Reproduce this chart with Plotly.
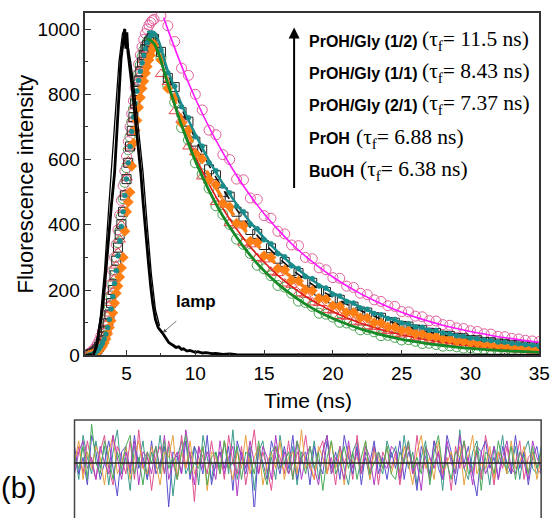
import numpy as np
import plotly.graph_objects as go

W, H = 560, 518

# ---------------- data ----------------
rise_time = np.arange(2.25, 6.9, 0.125)          # 38 points
decay_time = np.arange(7.0, 35.01, 0.5)          # 57 points
time = np.concatenate([rise_time, decay_time])
fit_time = np.concatenate([[6.5], np.arange(7.0, 35.01, 1.0)])
fit_time_mag = np.concatenate([[7.7], np.arange(8.0, 35.01, 1.0)])

buoh_rise = [3, 6, 8, 12, 16, 24, 32, 42, 55, 70, 90, 118, 150, 182, 220, 262, 300, 345, 380, 425,
             480, 530, 575, 630, 670, 715, 755, 790, 830, 862, 890, 915, 935, 950, 960, 968, 972, 968]
buoh_decay = [958, 912, 826, 775, 698, 660, 590, 556, 512, 458, 432, 401, 356, 340, 312, 276, 265, 244,
              214, 209, 190, 166, 162, 150, 129, 126, 117, 101, 99, 92, 78, 79, 72, 60, 61, 55, 47, 48,
              43, 36, 37, 33, 28, 29, 26, 22, 23, 19, 19, 16, 16, 13, 14, 12, 10, 11, 8]
proh_rise = [2, 4, 6, 9, 13, 19, 27, 36, 46, 60, 78, 100, 128, 160, 195, 235, 275, 315, 355, 400,
             445, 495, 545, 595, 640, 685, 725, 765, 800, 832, 860, 885, 905, 922, 935, 944, 950, 952]
proh_decay = [945, 862, 838, 748, 722, 640, 622, 548, 536, 470, 462, 405, 398, 345, 340, 298, 294, 256,
              252, 220, 216, 190, 186, 162, 160, 139, 137, 120, 118, 103, 101, 89, 87, 76, 74, 66, 64,
              56, 55, 48, 47, 42, 41, 36, 35, 31, 30, 26, 26, 22, 22, 19, 19, 17, 16, 14, 14]
gly21_rise = [0, 1, 3, 5, 8, 11, 15, 21, 28, 38, 50, 66, 85, 106, 130, 160, 190, 212, 240, 268,
              300, 380, 440, 470, 500, 580, 650, 690, 720, 760, 790, 818, 840, 865, 885, 905, 920, 938]
gly21_decay = [950, 905, 818, 790, 712, 690, 618, 602, 538, 522, 466, 455, 405, 398, 350, 346, 305, 300,
               266, 262, 230, 228, 200, 198, 174, 172, 152, 150, 131, 131, 115, 114, 100, 99, 87, 86,
               76, 75, 66, 65, 58, 57, 50, 49, 43, 43, 38, 37, 33, 32, 29, 28, 25, 25, 22, 21, 19]
gly11_rise = [2, 3, 5, 8, 12, 18, 25, 34, 45, 58, 75, 98, 125, 160, 200, 245, 290, 330, 370, 402,
              440, 490, 540, 590, 640, 688, 730, 772, 810, 842, 870, 898, 920, 938, 950, 960, 968, 972]
gly11_decay = [970, 930, 850, 822, 745, 716, 655, 630, 570, 552, 500, 486, 440, 425, 384, 372, 338, 328,
               296, 286, 258, 252, 226, 222, 198, 194, 174, 170, 152, 149, 134, 131, 117, 115, 102, 100,
               90, 88, 79, 77, 69, 68, 60, 59, 53, 52, 47, 46, 41, 40, 36, 35, 31, 31, 27, 27, 24]
teal_rise = [0, 1, 3, 5, 9, 14, 20, 28, 38, 50, 65, 85, 110, 142, 180, 220, 260, 305, 350, 395,
             440, 490, 540, 590, 640, 686, 730, 772, 810, 842, 870, 896, 920, 940, 958, 970, 980, 985]
teal_decay = [985, 935, 866, 825, 762, 728, 670, 641, 590, 566, 519, 498, 457, 440, 402, 388, 354, 342,
              311, 302, 274, 266, 241, 235, 212, 206, 187, 182, 165, 160, 145, 141, 128, 124, 113, 110,
              99, 97, 87, 86, 77, 76, 68, 66, 60, 58, 53, 51, 47, 45, 41, 40, 36, 35, 32, 31, 28]
gly12_rise = [5, 8, 12, 18, 25, 34, 45, 58, 75, 96, 120, 148, 180, 218, 260, 300, 340, 385, 430, 475,
              520, 565, 610, 655, 700, 740, 780, 820, 860, 892, 920, 945, 968, 986, 1000, 1012, 1020, 1026]
gly12_decay = [1030, 1040, 1010, 962, 880, 858, 800, 752, 690, 676, 615, 600, 540, 538, 482, 478, 428,
               420, 380, 372, 338, 336, 300, 296, 268, 262, 238, 236, 212, 208, 190, 186, 170, 165, 152,
               150, 134, 133, 120, 118, 106, 105, 94, 92, 84, 82, 75, 73, 66, 65, 58, 57, 52, 50, 46, 44, 42]

fit_buoh = [970, 955, 833, 705, 596, 505, 427, 362, 306, 259, 219, 186, 157, 133, 113, 96, 81, 69,
            58, 49, 42, 35, 30, 25, 21, 18, 15, 13, 11, 9]
fit_proh = [960, 958, 825, 709, 609, 524, 450, 387, 332, 286, 245, 211, 181, 156, 134, 115, 99, 85,
            73, 63, 54, 46, 40, 34, 29.5, 25.3, 21.7, 18.7, 16, 13.8]
fit_gly21 = [960, 962, 836, 727, 633, 551, 479, 417, 363, 316, 275, 239, 208, 181, 158, 137, 120,
             104, 91, 79, 69, 60, 52, 45, 39, 34, 30, 26, 23, 20]
fit_gly11 = [985, 985, 864, 757, 664, 582, 510, 447, 392, 344, 301, 264, 232, 203, 178, 156, 137,
             120, 105, 92, 81, 71, 62, 54, 48, 42, 37, 32, 28, 25]
fit_teal = [990, 990, 872, 769, 677, 597, 526, 463, 408, 360, 317, 279, 246, 216, 191, 168, 148,
            130, 115, 101, 89, 79, 69, 61, 54, 47, 42, 37, 32, 28.5]
fit_gly12 = [1035, 999, 887, 787, 699, 621, 551, 489, 434, 386, 342, 304, 270, 240, 213, 189, 168,
             149, 132, 117, 104, 92, 82, 73, 65, 57, 51, 45, 40]

lamp_time = [2.0, 2.4, 2.6, 2.8, 2.95, 3.1, 3.3, 3.5, 3.65, 3.9, 4.13, 4.25, 4.37, 4.5, 4.6, 4.75,
             4.87, 4.95, 5.02, 5.1, 5.25, 5.44, 5.6, 5.8, 6.04, 6.2, 6.4, 6.6, 6.76, 6.9, 7.1, 7.3,
             7.6, 7.8, 8.07, 8.4, 8.6, 8.8, 9.0, 9.15, 9.4, 9.6, 10.0, 10.2, 10.5, 10.8, 11.2, 11.5,
             12.0, 12.5, 13.0, 14.0, 16.0, 20.0, 25.0, 30.0, 35.0]
lamp_counts = [0, 1, 3, 25, 60, 100, 160, 260, 360, 460, 560, 660, 760, 850, 910, 960,
               1000, 940, 990, 930, 880, 810, 740, 660, 558, 470, 360, 280, 210, 160, 110, 85,
               69, 55, 39, 30, 24, 26, 18, 20, 13, 15, 9, 11, 7, 8, 5, 6,
               3, 4, 2, 1, 1, 0.5, 0.3, 0.2, 0]
lamp2_time = [2.5, 2.8, 3.1, 3.4, 3.7, 3.95, 4.2, 4.45, 4.7, 4.85, 5.0, 5.3, 5.6, 5.9, 6.2, 6.5,
              6.8, 7.1, 7.4]
lamp2_counts = [0, 30, 120, 260, 450, 600, 780, 900, 985, 1000, 975, 900, 800, 690, 560, 400,
                250, 140, 90]

res_a = [2,-3,5,1,-2,4,-1,3,-4,2,6,-2,1,-5,3,0,4,-3,2,-1,5,-2,3,-6,1,4,-2,0,3,-4,5,1,-3,2,-1,4,-2,6,
         -3,1,-1,3,-5,2,4,-2,1,-3,5,0,-2,3,-4,2,1,-1,4,-3,2,5,-2,0,3,-1,-4,2,4,-2,1,-3,3,0,-2,4,1,
         3,-2,5,-1,2,-4,1,4,-3,0,2,-5,3,1,-2,6,-1,-3,2,4,-2,1,-4,3,0,5,-2,-1,3,-3,2,4,-1,-2,3]
res_b = [-1,3,-2,4,0,-3,2,5,-1,-4,3,1,-2,4,-3,6,-1,2,-5,1,3,-2,4,0,-3,5,-1,2,-7,3,1,-2,4,-1,2,-3,5,
         0,-2,3,-4,1,6,-2,2,-1,-5,3,1,-2,4,-3,2,0,5,-1,-3,2,4,-2,1,-4,3,0,2,-3,5,-1,1,-2,3,-4,2,0,-1,
         2,-4,1,3,-2,5,-1,0,-3,4,2,-2,1,-5,3,-1,4,0,-2,2,-3,5,1,-4,2,-1,3,-2,0,4,-3,1,2,-1,-2]
res_c = [3,-2,1,-4,5,2,-3,0,4,-1,-6,2,3,-2,5,-1,1,-3,4,-2,0,3,-8,2,1,-2,4,-3,3,1,-2,5,-4,0,2,-1,3,
         -5,4,1,-2,2,-9,3,0,-3,4,1,-2,3,-1,5,-3,1,2,-4,3,0,-2,4,-1,2,-3,5,1,-2,3,-4,2,0,4,-2,1,-3,2,
         -1,4,-3,2,0,-5,3,1,-2,4,-1,-3,5,2,-4,1,0,3,-2,-6,2,4,-1,1,-3,3,0,-2,5,-1,2,-4,1,3,-2]
res_d = [0,4,-3,2,-1,3,1,-4,2,5,-2,0,3,-3,1,4,-1,-2,3,0,-4,2,1,5,-3,2,-1,4,-2,0,3,-5,2,1,-2,4,0,-3,
         2,-1,5,-2,1,3,-4,0,2,-1,4,-3,1,2,-2,6,-1,0,-3,3,1,-2,4,-1,2,-4,3,0,1,-2,4,-3,2,1,-1,3,-2,
         1,-2,3,0,-4,2,5,-1,1,-3,4,-2,0,2,-1,3,-4,1,5,-2,0,-1,3,-3,2,1,-2,4,-1,0,3,-2,2,-3,1]
res_e = [-2,2,4,-1,1,-3,3,0,-2,5,1,-3,2,-1,4,-4,2,1,-2,3,-1,5,-3,0,2,-2,6,1,-4,3,-1,2,0,-3,4,-2,1,3,
         -6,2,-1,4,0,-2,3,1,-3,5,-1,2,-2,0,4,-3,1,3,-1,-4,2,5,-2,1,0,-3,4,-1,2,-2,3,1,-4,2,0,-1,3,
         2,-3,1,4,-2,0,-5,3,1,-1,2,-3,4,0,-2,5,-1,1,-4,3,2,-2,0,3,-3,1,4,-1,-2,2,0,-3,4,1,-1]
res_f = [1,-1,3,-3,7,0,-2,4,1,-3,2,-1,3,5,-2,1,-4,2,0,3,-2,4,-1,1,-3,2,5,-2,0,-1,3,-4,1,2,-2,4,-1,0,
         3,-3,2,1,-2,4,-1,-4,2,3,-1,0,2,-3,4,1,-2,3,-1,2,-5,1,4,-2,0,3,-1,2,-3,1,4,-2,0,2,-1,3,-2,
         -3,2,0,4,-1,1,-2,3,-4,2,5,-1,0,-3,2,1,4,-2,-1,3,-5,2,1,-2,4,0,-1,3,-3,2,1,-2,3,-1,2]

legend_labels = ["PrOH/Gly (1/2)", "PrOH/Gly (1/1)", "PrOH/Gly (2/1)", "PrOH", "BuOH"]
legend_tau = ["11.5", "8.43", "7.37", "6.88", "6.38"]

buoh = buoh_rise + buoh_decay
proh = proh_rise + proh_decay
gly21 = gly21_rise + gly21_decay
gly11 = gly11_rise + gly11_decay
teal = teal_rise + teal_decay
gly12 = gly12_rise + gly12_decay

# ---------------- figure ----------------
fig = go.Figure()

def px(x):
    return x / W

def py(y):
    return 1 - y / H

def mk(y, symbol, color, size, lw=1.0):
    return go.Scatter(x=time, y=y, mode="markers", xaxis="x", yaxis="y",
                      marker=dict(symbol=symbol, size=size, color=color,
                                  line=dict(color=color, width=lw)))

def fitline(xv, y, color, width, dash="solid"):
    return go.Scatter(x=xv, y=y, mode="lines", xaxis="x", yaxis="y",
                      line=dict(color=color, width=width, dash=dash, shape="spline"))

GREEN_M = "#4aa352"
GREEN_L = "#168a26"
RED = "#e8474a"
ORANGE = "#ff7f14"
MAG_M = "#e0609c"
MAG_L = "#ff1aff"
TEAL = "#1a8c8c"

fig.add_trace(mk(buoh, "circle-open", GREEN_M, 10))
fig.add_trace(mk(gly12, "circle-open", MAG_M, 10))
fig.add_trace(mk(proh, "triangle-up-open", RED, 10))
fig.add_trace(mk(gly11, "square-open", "#222222", 9))
fig.add_trace(fitline(fit_time, fit_proh, "#e01818", 1.6))
fig.add_trace(fitline(fit_time, fit_gly11, "#111111", 1.6, "dash"))
fig.add_trace(fitline(fit_time_mag, fit_gly12, MAG_L, 1.6))
fig.add_trace(mk(gly21, "diamond", ORANGE, 8, 0.5))
fig.add_trace(fitline(fit_time, fit_gly21, ORANGE, 3.5, "dash"))
fig.add_trace(mk(teal, "circle", TEAL, 5, 0.5))
fig.add_trace(fitline(fit_time, fit_teal, TEAL, 2.5))
fig.add_trace(fitline(fit_time, fit_buoh, GREEN_L, 2.8))
fig.add_trace(go.Scatter(x=lamp2_time, y=lamp2_counts, mode="lines", xaxis="x", yaxis="y",
                         line=dict(color="black", width=1.3)))
fig.add_trace(go.Scatter(x=lamp_time, y=lamp_counts, mode="lines", xaxis="x", yaxis="y",
                         line=dict(color="black", width=2.8)))

res_colors = ["#3a9a8a", "#e0508f", "#5a50cc", "#e8a040", "#b03cc0", "#4aaa5a"]
for series, c in zip([res_a, res_b, res_c, res_d, res_e, res_f], res_colors):
    n = len(series)
    fig.add_trace(go.Scatter(x=np.linspace(0, 1, n), y=series, mode="lines",
                             xaxis="x2", yaxis="y2", line=dict(color=c, width=1)))

SANS = "Liberation Sans, Arial, sans-serif"
SERIF = "Liberation Serif, Times New Roman, serif"

fig.update_layout(
    width=W, height=H, margin=dict(l=0, r=0, t=0, b=0),
    plot_bgcolor="white", paper_bgcolor="white", showlegend=False,
    font=dict(family=SANS, color="black"),
    xaxis=dict(domain=[px(87), px(550)], range=[2, 35], anchor="y",
               tickmode="array", tickvals=[5, 10, 15, 20, 25, 30, 35],
               ticks="inside", ticklen=6, tickwidth=1.2, tickcolor="#333",
               minor=dict(ticks="inside", ticklen=3, tickvals=[2.5, 7.5, 12.5, 17.5, 22.5, 27.5, 32.5],
                          tickcolor="#333"),
               showline=True, linecolor="#333", linewidth=1.5, mirror=True,
               ticklabeloverflow="allow",
               showgrid=False, zeroline=False, tickfont=dict(size=19, family=SANS)),
    yaxis=dict(domain=[py(363), py(13)], range=[0, 1050], anchor="x",
               tickmode="array", tickvals=[0, 200, 400, 600, 800, 1000],
               ticks="inside", ticklen=6, tickwidth=1.2, tickcolor="#333",
               minor=dict(ticks="inside", ticklen=3, tickvals=[100, 300, 500, 700, 900],
                          tickcolor="#333"),
               showline=True, linecolor="#333", linewidth=1.5, mirror=True,
               ticklabeloverflow="allow",
               showgrid=False, zeroline=False, tickfont=dict(size=19, family=SANS)),
    xaxis2=dict(domain=[px(76), px(552)], range=[0, 1], anchor="y2", visible=False),
    yaxis2=dict(domain=[0, py(429)], range=[-8, 7.8], anchor="x2", visible=False),
)

shapes = [
    dict(type="rect", xref="paper", yref="paper", x0=px(76), x1=px(552), y0=-0.1, y1=py(429),
         line=dict(color="#444", width=1.5), layer="above"),
    dict(type="line", xref="paper", yref="y2", x0=px(76), x1=px(552), y0=0, y1=0,
         line=dict(color="#222", width=1.5), layer="above"),
]
fig.update_layout(shapes=shapes)

ann = [
    dict(text="Fluorescence intensity", x=px(25), y=py(188), xref="paper", yref="paper",
         xanchor="center", yanchor="middle",
         showarrow=False, textangle=-90, font=dict(size=22, family=SANS)),
    dict(text="Time (ns)", x=px(314), y=py(409), xref="paper", yref="paper",
         xanchor="center", yanchor="middle",
         showarrow=False, font=dict(size=21, family=SANS)),
    dict(text="(b)", x=px(19), y=py(499), xref="paper", yref="paper",
         xanchor="center", yanchor="middle",
         showarrow=False, font=dict(size=29, family=SANS)),
    dict(text="<b>lamp</b>", x=px(200), y=py(308), xref="paper", yref="paper",
         xanchor="center", yanchor="middle",
         showarrow=False, font=dict(size=17, family=SANS)),
    dict(text="", x=px(166), y=py(340), xref="paper", yref="paper", showarrow=True,
         ax=15, ay=-13, arrowhead=2, arrowsize=1, arrowwidth=0.8, arrowcolor="#555"),
    dict(text="", x=px(300), y=py(28), xref="paper", yref="paper", showarrow=True,
         ax=0, ay=162, arrowhead=2, arrowsize=1.1, arrowwidth=2, arrowcolor="black"),
]

# Arial Bold advance widths (per 1000 em) used to place the serif part after the bold label
BOLD_W = {"P": 667, "r": 389, "O": 778, "H": 722, "/": 278, "G": 778, "l": 278, "y": 556,
          " ": 278, "(": 333, ")": 333, "1": 556, "2": 556, "B": 722, "u": 611}
BOLD_SIZE = 16
SERIF_SIZE = 21.5
ys = [42, 75, 108, 142, 175]
for lab, tau, yy in zip(legend_labels, legend_tau, ys):
    wbold = sum(BOLD_W.get(ch, 556) for ch in lab) / 1000 * BOLD_SIZE
    ann.append(dict(text=f"<b>{lab}</b>", x=px(313), y=py(yy), xref="paper", yref="paper",
                    xanchor="left", yanchor="middle", showarrow=False,
                    font=dict(size=BOLD_SIZE, family=SANS)))
    ann.append(dict(text=f"(τ<sub>f</sub>= {tau} ns)", x=px(313 + wbold + 7), y=py(yy - 1),
                    xref="paper", yref="paper", xanchor="left", yanchor="middle", showarrow=False,
                    font=dict(size=SERIF_SIZE, family=SERIF)))
fig.update_layout(annotations=ann)

fig.write_html("out.html")
